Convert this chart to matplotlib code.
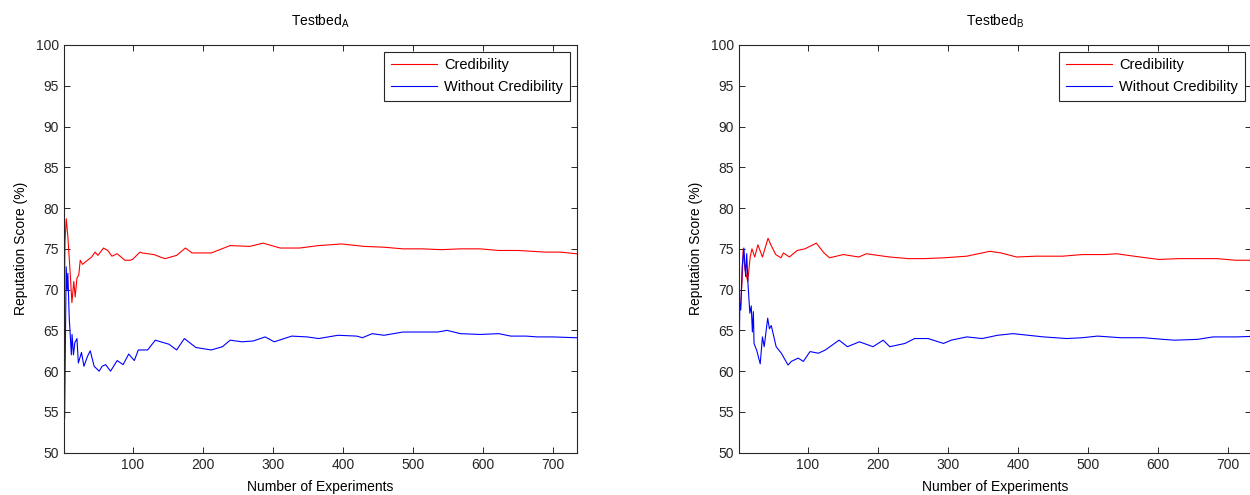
import numpy as np
import matplotlib
matplotlib.use('Agg')
import matplotlib.pyplot as plt

# Dados (Testbed A e Testbed B)
xA_cred = [2, 3, 4.7, 7, 10, 12.8, 15.5, 17.5, 20, 22.6, 24.7, 28, 33.6, 41, 46, 50, 58, 64, 70, 77.5, 88.5, 96, 99.5,
           110, 113, 130, 139, 146, 162.5, 175, 184.5, 212, 239, 267, 286, 310.6, 338, 365.5, 398, 431, 459, 486,
           513.6, 541, 568, 596, 623, 651, 689, 711, 734]
yA_cred = [70.0, 76.0, 78.7, 76.5, 72.5, 68.4, 71.0, 69.1, 71.4, 71.8, 73.6, 73.1, 73.5, 74.0, 74.6, 74.2, 75.1, 74.8, 74.1, 74.4, 73.6, 73.6, 73.7,
           74.6, 74.5, 74.3, 74.0, 73.8, 74.2, 75.1, 74.5, 74.5, 75.4, 75.3, 75.7, 75.1, 75.1, 75.4, 75.6, 75.3, 75.2, 75.0,
           75.0, 74.9, 75.0, 75.0, 74.8, 74.8, 74.6, 74.6, 74.4]

xA_wo = [2.4, 4.6, 6, 7, 9, 10.5, 12, 13, 15, 17, 20, 22, 26.5, 30, 35, 39, 44.6, 51.7, 56, 61, 68, 77.5, 86, 94, 102, 107.7,
         121, 132, 151.6, 162.5, 173.5, 190, 212, 228, 239, 256, 272, 289, 302, 327, 349, 365.5, 393, 420, 428, 442,
         459, 486, 514, 535.5, 549, 568, 596, 623, 640, 662, 678, 700, 734]
yA_wo = [54.3, 72.8, 70.0, 72.0, 66.5, 64.3, 62.0, 64.5, 62.0, 63.5, 64.0, 61.0, 62.3, 60.6, 61.8, 62.5, 60.6, 60.0, 60.6, 60.8, 60.0, 61.3, 60.8, 62.1, 61.3, 62.6,
         62.6, 63.8, 63.3, 62.6, 64.0, 62.9, 62.6, 63.0, 63.8, 63.6, 63.7, 64.2, 63.6, 64.3, 64.2, 64.0, 64.4, 64.3, 64.1, 64.6,
         64.4, 64.8, 64.8, 64.8, 65.0, 64.6, 64.5, 64.6, 64.3, 64.3, 64.2, 64.2, 64.1]

xB_cred = [2, 3.7, 6, 7.5, 10, 14, 17.5, 20, 24, 28.5, 35, 43, 47, 54, 61.5, 65, 73.5, 84.6, 95.6, 112, 123, 131, 150.6,
           172.7, 183.7, 200, 216.7, 244, 266, 294, 327, 360, 376, 398, 426, 464, 492, 525, 541, 574.5, 602,
           629.5, 684.6, 712, 748]
yB_cred = [68.5, 67.9, 71.2, 75.0, 72.5, 71.0, 74.0, 75.0, 74.0, 75.5, 74.0, 76.3, 75.5, 74.3, 73.9, 74.5, 74.0, 74.8, 75.0, 75.7, 74.5, 73.9, 74.3,
           74.0, 74.4, 74.2, 74.0, 73.8, 73.8, 73.9, 74.1, 74.7, 74.5, 74.0, 74.1, 74.1, 74.3, 74.3, 74.4, 74.0, 73.7,
           73.8, 73.8, 73.6, 73.6]

xB_wo = [1.2, 2.6, 4, 6, 8.5, 11, 12.5, 14.3, 17, 19, 20.6, 22, 23, 27, 31.8, 35, 37.5, 42.5, 45, 47.6, 54.6, 62, 71.6,
         76.4, 86, 93.5, 103, 115, 125, 144.5, 156.5, 173.6, 193, 207.6, 217, 238.7, 252.5, 271.7, 293.8, 304.8,
         327, 349, 371, 393, 415, 437, 470, 492, 514, 547, 580, 607.5, 624, 657, 679, 712, 748]
yB_wo = [56.9, 68.3, 67.5, 72.8, 75.1, 71.6, 74.4, 70.8, 67.1, 68.0, 64.8, 67.3, 63.4, 62.5, 60.9, 64.2, 63.0, 66.5, 65.2, 65.6, 63.0, 62.2, 60.75,
         61.2, 61.6, 61.2, 62.4, 62.2, 62.6, 63.8, 63.0, 63.6, 63.0, 63.8, 63.0, 63.4, 64.0, 64.0, 63.4, 63.8,
         64.2, 64.0, 64.4, 64.6, 64.4, 64.2, 64.0, 64.1, 64.3, 64.1, 64.1, 63.9, 63.8, 63.9, 64.2, 64.2, 64.3]

painéis = [('A', xA_cred, yA_cred, xA_wo, yA_wo), ('B', xB_cred, yB_cred, xB_wo, yB_wo)]
yticks = np.arange(50, 101, 5)
xticks = np.arange(100, 701, 100)

plt.rcParams['font.family'] = ['Liberation Sans', 'DejaVu Sans']
plt.rcParams['mathtext.default'] = 'regular'

fig = plt.figure(figsize=(12.5, 4.95), dpi=100)
W, H = 1250., 495.
posicoes = [(64, 42.3, 512.5, 407.7), (739, 42.3, 512.5, 407.7)]

for (nome, xc, yc, xw, yw), (l, b, w, h) in zip(painéis, posicoes):
    ax = fig.add_axes([l / W, b / H, w / W, h / H])
    ax.plot(xc, yc, color='#ff0000', lw=0.8, label='Credibility')
    ax.plot(xw, yw, color='#0000ff', lw=0.8, label='Without Credibility')
    ax.set_xlim(1.5, 734)
    ax.set_ylim(50, 100)
    ax.set_xticks(xticks)
    ax.set_yticks(yticks)
    ax.tick_params(direction='in', top=True, right=True, length=4, width=0.7, labelsize=10, colors='#262626')
    for s in ax.spines.values():
        s.set_linewidth(0.8)
        s.set_color('#262626')
    ax.set_title('Testbed$_{' + nome + '}$', fontsize=10, pad=14)
    ax.set_xlabel('Number of Experiments', fontsize=10, labelpad=6)
    ax.set_ylabel('Reputation Score (%)', fontsize=10, labelpad=6)
    leg = ax.legend(loc='upper right', fontsize=10.5, fancybox=False, framealpha=1, edgecolor='#262626',
                    borderaxespad=0.45, handlelength=3.2, handletextpad=0.5, borderpad=0.45, labelspacing=0.55)
    leg.get_frame().set_linewidth(0.8)

fig.savefig('out.png', dpi=100)
